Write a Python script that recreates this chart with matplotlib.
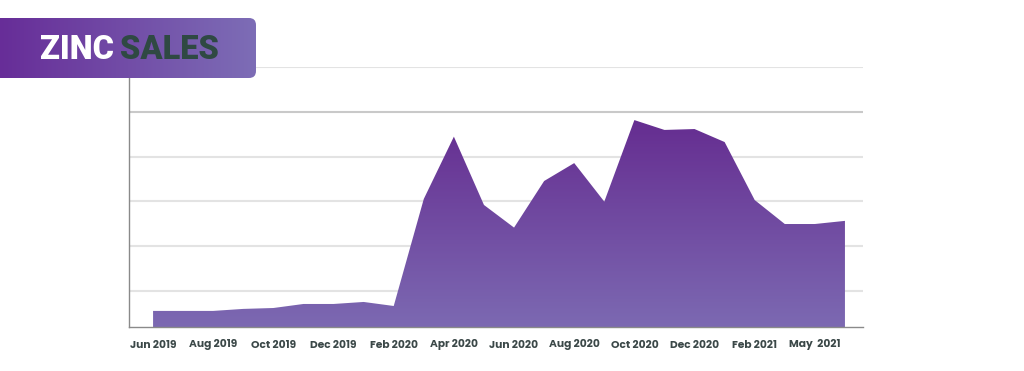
import numpy as np
import matplotlib
matplotlib.use("Agg")
import matplotlib.pyplot as plt
from matplotlib.patches import FancyBboxPatch, Polygon
from matplotlib.colors import LinearSegmentedColormap

# monthly zinc sales, Jun 2019 .. May 2021 (units)
months = ["Jun 2019", "Jul 2019", "Aug 2019", "Sep 2019", "Oct 2019", "Nov 2019",
          "Dec 2019", "Jan 2020", "Feb 2020", "Mar 2020", "Apr 2020", "May 2020",
          "Jun 2020", "Jul 2020", "Aug 2020", "Sep 2020", "Oct 2020", "Nov 2020",
          "Dec 2020", "Jan 2021", "Feb 2021", "Mar 2021", "Apr 2021", "May 2021"]
sales = [555, 555, 555, 600, 620, 710, 710, 755, 665, 3055, 4445, 2920,
         2415, 3455, 3855, 2995, 4815, 4595, 4615, 4325, 3030, 2495, 2495, 2565]
tick_idx = [0, 2, 4, 6, 8, 10, 12, 14, 16, 18, 20, 22]
tick_labels = ["Jun 2019", "Aug 2019", "Oct 2019", "Dec 2019", "Feb 2020", "Apr 2020",
               "Jun 2020", "Aug 2020", "Oct 2020", "Dec 2020", "Feb 2021", "May  2021"]
grid_vals = [1000, 2000, 3000, 4000, 5000, 6000]

W, H = 1024, 371
fig = plt.figure(figsize=(W / 100, H / 100), dpi=100)
ax = fig.add_axes([129 / W, 1 - 327 / H, (863 - 129) / W, (327 - 67) / H])

x = np.arange(len(sales))
ax.set_xlim(-0.8, 23.6)
ax.set_ylim(196, 6000)

# gradient area fill
area_cmap = LinearSegmentedColormap.from_list("area", ["#7c69b2", "#652c90"])
grad = np.linspace(0, 1, 256).reshape(-1, 1)
img = ax.imshow(grad, cmap=area_cmap, aspect="auto", origin="lower",
                extent=[-0.8, 23.6, 196, 4900], zorder=2)
verts = [(0, 196)] + list(zip(x, sales)) + [(x[-1], 196)]
poly = Polygon(verts, closed=True, facecolor="none", edgecolor="none")
ax.add_patch(poly)
img.set_clip_path(poly)

for g in grid_vals:
    c = "#c9c9c9" if g == 5000 else "#e3e3e3"
    ax.axhline(g, color=c, lw=1.5, zorder=1)

for s in ["top", "right"]:
    ax.spines[s].set_visible(False)
for s in ["left", "bottom"]:
    ax.spines[s].set_color("#8a8a8a")
    ax.spines[s].set_linewidth(1.0)
    ax.spines[s].set_zorder(3)

ax.set_yticks([])
ax.set_xticks(tick_idx)
ax.set_xticklabels(tick_labels, fontsize=7.7, fontweight="bold", color="#3b4848",
                   family=["Poppins", "Montserrat", "Lato", "DejaVu Sans"])
ax.tick_params(axis="x", length=0, pad=9)

# title banner
ov = fig.add_axes([0, 0, 1, 1], zorder=5)
ov.set_xlim(0, W)
ov.set_ylim(H, 0)
ov.axis("off")
box = FancyBboxPatch((-30, 18), 286, 60, boxstyle="round,pad=0,rounding_size=7",
                     facecolor="none", edgecolor="none")
ov.add_patch(box)
banner_cmap = LinearSegmentedColormap.from_list("banner", ["#672d98", "#7d6db6"])
bimg = ov.imshow(np.linspace(0, 1, 256).reshape(1, -1), cmap=banner_cmap,
                 aspect="auto", extent=[0, 256, 78, 18], zorder=1)
bimg.set_clip_path(box)

title_font = ["Roboto", "DejaVu Sans"]
t1 = ov.text(40, 50, "ZINC", fontsize=23.5, fontweight="black", color="white",
             va="center", ha="left", family=title_font, zorder=2)
fig.canvas.draw()
bb = t1.get_window_extent().transformed(ov.transData.inverted())
ov.text(bb.x1 + 6, 50, "SALES", fontsize=23.5, fontweight="black", color="#2f4943",
        va="center", ha="left", family=title_font, zorder=2)

fig.savefig("out.png", dpi=100)
